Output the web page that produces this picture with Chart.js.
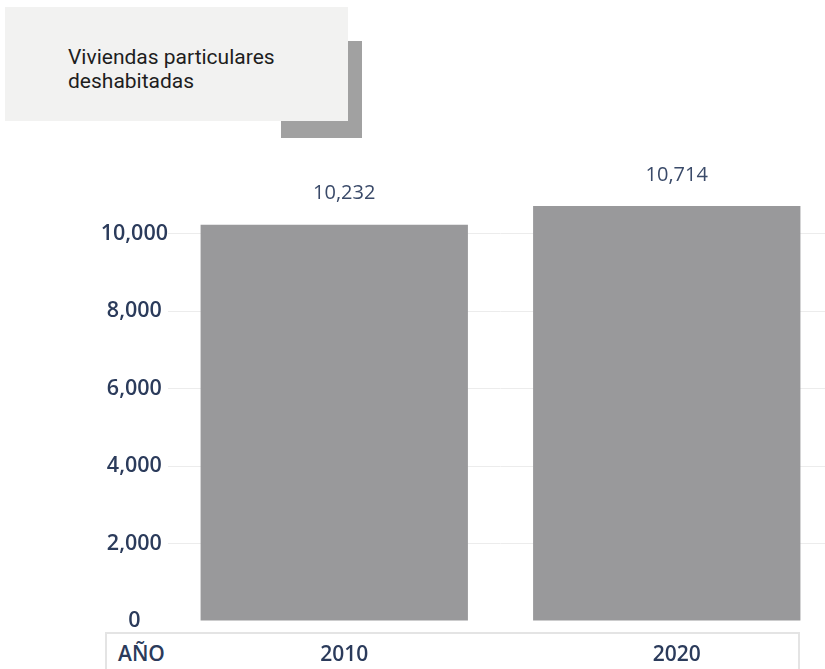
<!DOCTYPE html>
<html lang="es">
<head>
    <meta charset="UTF-8">
    <title>Viviendas particulares deshabitadas</title>
    <script src="https://cdn.jsdelivr.net/npm/chart.js"></script>
    <style>
        html, body { margin: 0; padding: 0; background: #fff; overflow: hidden; }
        .wrap { position: relative; width: 833px; height: 669px; }
        .legend-shadow { position: absolute; left: 281px; top: 41px; width: 81px; height: 97px; background: #a1a1a1; }
        .legend-box {
            position: absolute; left: 5px; top: 7px; width: 343px; height: 114px; background: #f2f2f1;
            font-family: Roboto, sans-serif; font-size: 21px; line-height: 24px; color: #1e1e1e;
            box-sizing: border-box; padding: 38px 0 0 63px;
        }
        .axis-box {
            position: absolute; left: 105px; top: 632px; width: 695px; height: 45px;
            border: 2px solid #e4e4e4; border-bottom: none; box-sizing: border-box;
        }
        .axis-box span {
            position: absolute; left: 11px; top: 5px;
            font-family: "Open Sans", sans-serif; font-weight: 600; font-size: 21px; color: #2b3b5b;
        }
        canvas { position: absolute; left: 0; top: 0; }
    </style>
</head>
<body>
<div class="wrap">
    <div class="axis-box"><span>AÑO</span></div>
    <canvas id="chart" width="833" height="669"></canvas>
    <div class="legend-shadow"></div>
    <div class="legend-box">Viviendas particulares<br>deshabitadas</div>
</div>
<script>
    // datos
    const years = ['2010', '2020'];
    const vacantHomes = [10232, 10714];
    const yTicks = [0, 2000, 4000, 6000, 8000, 10000];

    const fmt = v => v.toLocaleString('en-US');

    // etiquetas de valor sobre las barras
    const valueLabels = {
        id: 'valueLabels',
        afterDatasetsDraw(chart) {
            const ctx = chart.ctx;
            const meta = chart.getDatasetMeta(0);
            ctx.save();
            ctx.font = '20px "Open Sans"';
            ctx.fillStyle = '#3a4a69';
            ctx.textAlign = 'center';
            ctx.textBaseline = 'middle';
            meta.data.forEach((bar, i) => {
                ctx.fillText(fmt(vacantHomes[i]), bar.x + 10, bar.y - 31);
            });
            ctx.restore();
        }
    };

    new Chart(document.getElementById('chart'), {
        type: 'bar',
        data: {
            labels: years,
            datasets: [{
                data: vacantHomes,
                backgroundColor: '#99999b',
                categoryPercentage: 1,
                barPercentage: 0.804
            }]
        },
        options: {
            responsive: false,
            animation: false,
            layout: { padding: { top: 195, left: 0, right: 0, bottom: 0 } },
            plugins: { legend: { display: false }, tooltip: { enabled: false } },
            scales: {
                x: {
                    grid: { display: false },
                    border: { display: false },
                    afterFit: s => { s.height = 48; },
                    ticks: {
                        padding: 13,
                        labelOffset: 10,
                        color: '#2b3b5b',
                        font: { family: 'Open Sans', size: 21, weight: 600 }
                    }
                },
                y: {
                    min: 0,
                    max: 11000,
                    afterBuildTicks: s => { s.ticks = yTicks.map(v => ({ value: v })); },
                    afterFit: s => { s.width = 168; },
                    border: { display: false },
                    grid: {
                        drawTicks: false,
                        color: c => c.tick && c.tick.value === 0 ? 'rgba(0,0,0,0)' : '#ececec'
                    },
                    ticks: {
                        padding: 0,
                        crossAlign: 'center',
                        color: '#2b3b5b',
                        font: { family: 'Open Sans', size: 21.5, weight: 600 },
                        callback: v => fmt(v)
                    }
                }
            }
        },
        plugins: [valueLabels]
    });
</script>
</body>
</html>
